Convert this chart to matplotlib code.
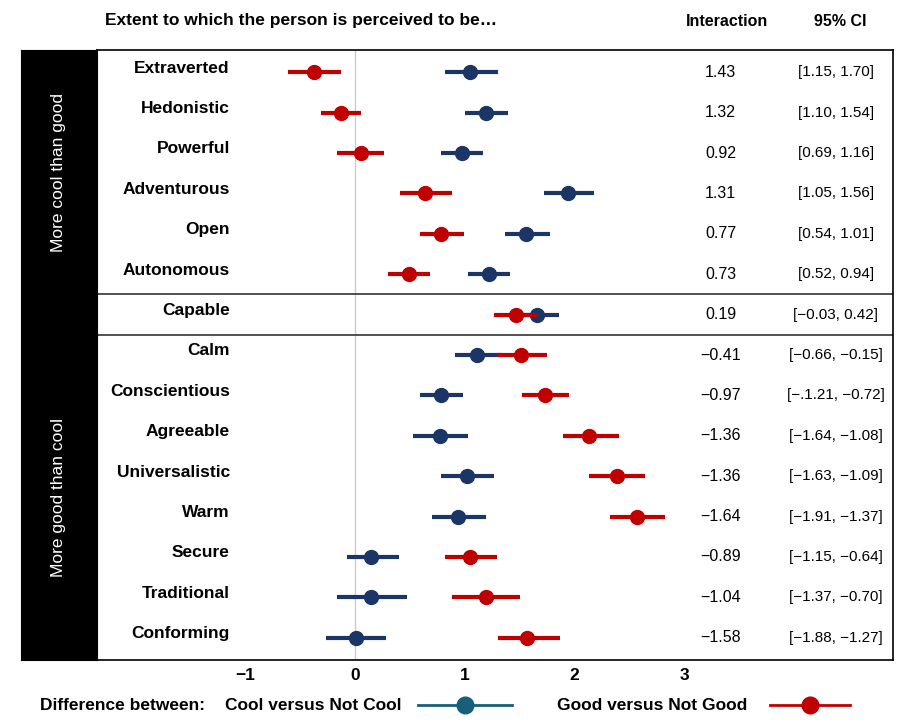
import matplotlib.pyplot as plt

plt.rcParams['font.family'] = ['Liberation Sans', 'DejaVu Sans']

traits = ['Extraverted', 'Hedonistic', 'Powerful', 'Adventurous', 'Open', 'Autonomous',
          'Capable', 'Calm', 'Conscientious', 'Agreeable', 'Universalistic', 'Warm',
          'Secure', 'Traditional', 'Conforming']
cool = [1.05, 1.19, 0.97, 1.94, 1.56, 1.22, 1.66, 1.11, 0.78, 0.77, 1.02, 0.94, 0.15, 0.15, 0.01]
cool_lo = [0.82, 1.00, 0.78, 1.72, 1.37, 1.03, 1.46, 0.91, 0.59, 0.53, 0.78, 0.70, -0.07, -0.16, -0.26]
cool_hi = [1.30, 1.39, 1.17, 2.18, 1.78, 1.41, 1.86, 1.33, 0.98, 1.03, 1.27, 1.19, 0.40, 0.47, 0.28]
good = [-0.37, -0.13, 0.05, 0.64, 0.78, 0.49, 1.47, 1.51, 1.73, 2.13, 2.39, 2.57, 1.05, 1.19, 1.57]
good_lo = [-0.61, -0.31, -0.16, 0.41, 0.59, 0.30, 1.27, 1.29, 1.52, 1.89, 2.13, 2.32, 0.82, 0.88, 1.30]
good_hi = [-0.13, 0.05, 0.26, 0.88, 0.99, 0.68, 1.67, 1.75, 1.95, 2.40, 2.64, 2.82, 1.29, 1.50, 1.87]
interaction = ['1.43', '1.32', '0.92', '1.31', '0.77', '0.73', '0.19', '\u22120.41', '\u22120.97',
               '\u22121.36', '\u22121.36', '\u22121.64', '\u22120.89', '\u22121.04', '\u22121.58']
ci = ['[1.15, 1.70]', '[1.10, 1.54]', '[0.69, 1.16]', '[1.05, 1.56]', '[0.54, 1.01]', '[0.52, 0.94]',
      '[\u22120.03, 0.42]', '[\u22120.66, \u22120.15]', '[\u2212.1.21, \u22120.72]', '[\u22121.64, \u22121.08]',
      '[\u22121.63, \u22121.09]', '[\u22121.91, \u22121.37]', '[\u22121.15, \u22120.64]', '[\u22121.37, \u22120.70]',
      '[\u22121.88, \u22121.27]']

navy = '#1b3566'
red = '#c00000'
teal = '#17607a'

W, H = 922, 728
fig = plt.figure(figsize=(W / 100, H / 100), dpi=100)
ax = fig.add_axes([97 / W, 1 - 660 / H, (893 - 97) / W, (660 - 50) / H])
n = len(traits)
ys = list(range(n))
ax.set_xlim(-2.35, 4.9)
ax.set_ylim(n - 0.5 + 0.05, -0.5 - 0.05)
ax.axvline(0, color='#cccccc', lw=1, zorder=0)
for yy in [5.5, 6.5]:
    ax.axhline(yy, color='#333333', lw=1.2)

for i in ys:
    ax.plot([cool_lo[i], cool_hi[i]], [i, i], color=navy, lw=3, solid_capstyle='butt')
    ax.plot(cool[i], i, 'o', color=navy, ms=10)
    ax.plot([good_lo[i], good_hi[i]], [i, i], color=red, lw=3, solid_capstyle='butt')
    ax.plot(good[i], i, 'o', color=red, ms=10)
    ax.text(-1.14, i - 0.1, traits[i], ha='right', va='center', fontsize=12.5, fontweight='bold')
    ax.text(3.33, i, interaction[i], ha='center', va='center', fontsize=11.5)
    ax.text(4.38, i, ci[i], ha='center', va='center', fontsize=11)

ax.set_xticks([-1, 0, 1, 2, 3])
ax.set_xticklabels(['\u22121', '0', '1', '2', '3'], fontsize=12.5, fontweight='bold')
ax.tick_params(axis='x', length=0, pad=6)
ax.set_yticks([])
for s in ax.spines.values():
    s.set_linewidth(1.2)

# left black strip
sx = fig.add_axes([21 / W, 1 - 660 / H, (97 - 21) / W, (660 - 50) / H])
sx.set_facecolor('black')
sx.set_xticks([]); sx.set_yticks([])
sx.set_ylim(n - 0.5, -0.5)
sx.text(0.5, 2.5, 'More cool than good', rotation=90, color='white', ha='center', va='center',
        fontsize=12.5, transform=sx.get_yaxis_transform())
sx.text(0.5, 10.5, 'More good than cool', rotation=90, color='white', ha='center', va='center',
        fontsize=12.5, transform=sx.get_yaxis_transform())

fig.text(105 / W, 1 - 21 / H, 'Extent to which the person is perceived to be\u2026', fontsize=12.5,
         fontweight='bold', va='center')
fig.text(727 / W, 1 - 21 / H, 'Interaction', fontsize=11.5, fontweight='bold', va='center', ha='center')
fig.text(840 / W, 1 - 21 / H, '95% CI', fontsize=11.5, fontweight='bold', va='center', ha='center')

# legend
fig.text(40 / W, 1 - 705 / H, 'Difference between:', fontsize=12.5, fontweight='bold', va='center')
fig.text(225 / W, 1 - 705 / H, 'Cool versus Not Cool', fontsize=12.5, fontweight='bold', va='center')
fig.text(557 / W, 1 - 705 / H, 'Good versus Not Good', fontsize=12.5, fontweight='bold', va='center')
lg = fig.add_axes([0, 0, 1, 1], facecolor='none')
lg.set_xlim(0, W); lg.set_ylim(H, 0); lg.axis('off')
lg.plot([418, 512], [705, 705], color=teal, lw=2)
lg.plot(465, 705, 'o', color=teal, ms=12)
lg.plot([770, 850], [705, 705], color=red, lw=2)
lg.plot(810, 705, 'o', color=red, ms=12)

fig.savefig('out.png', dpi=100, facecolor='white')
